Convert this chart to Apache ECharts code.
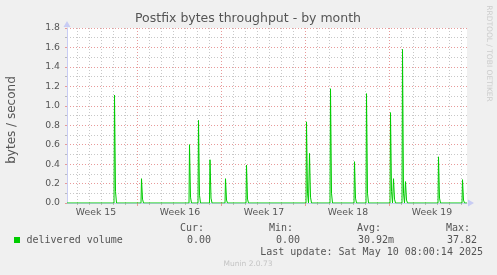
<!DOCTYPE html>
<html><head><meta charset="utf-8">
<script src="https://cdn.jsdelivr.net/npm/echarts@6/dist/echarts.min.js"></script>
<style>html,body{margin:0;padding:0;background:#f0f0f0;} #c{width:497px;height:275px;}</style>
</head><body><div id="c"></div>
<script>
// Time axis in hours from the left edge of the plot (800 h shown)
const spikeHours = [95, 149, 245, 263, 286, 317, 359, 479, 485, 527, 575, 599, 647, 653, 671, 677, 743, 791];
const spikePeaks = [1.11, 0.25, 0.60, 0.85, 0.445, 0.25, 0.39, 0.835, 0.51, 1.175, 0.425, 1.125, 0.93, 0.25, 1.58, 0.22, 0.475, 0.24];
const spikeTails = [0.12, 0.04, 0.06, 0.08, 0.05, 0.03, 0.04, 0.10, 0.06, 0.10, 0.05, 0.10, 0.12, 0.04, 0.10, 0.03, 0.05, 0.03];
const dayLineHours = [20,44,68,92,116,140,164,188,212,236,260,284,308,332,356,380,404,428,452,476,500,524,548,572,596,620,644,668,692,716,740,764,788];
const weekLineHours = [140, 308, 476, 644];
const weekLabelHours = [58, 226, 394, 562, 730];
const weekLabels = ['Week 15', 'Week 16', 'Week 17', 'Week 18', 'Week 19'];
const legendName = 'delivered volume';
const statHeaders = ['Cur:', 'Min:', 'Avg:', 'Max:'];
const statValues = ['0.00', '0.00', '30.92m', '37.82'];
const lastUpdate = 'Last update: Sat May 10 08:00:14 2025';

const data = [[0, 0]];
spikeHours.forEach((h, i) => {
  data.push([h - 1, 0], [h, spikePeaks[i]], [h + 2, spikeTails[i]], [h + 4, 0]);
});
data.push([800, 0]);

const GRAY = '#c8c8c8', RED = '#e89a9a', AXIS = '#c8ccf4', TXT = '#555';
const chart = echarts.init(document.getElementById('c'), null, {renderer: 'canvas'});
const mono = '"DejaVu Sans Mono", monospace';
const sans = '"DejaVu Sans", sans-serif';
const statHeaderX = [204, 293, 381, 470];
const statValueX = [211, 300, 394, 477];
const graphics = [
  {type: 'text', x: 248, y: 18.5, style: {text: 'Postfix bytes throughput - by month', font: '12.5px ' + sans, fill: TXT, align: 'center', verticalAlign: 'middle'}},
  {type: 'text', x: 12, y: 120, rotation: Math.PI / 2, style: {text: 'bytes / second', font: '12px ' + sans, fill: TXT, align: 'center', verticalAlign: 'middle'}},
  {type: 'text', x: 488.5, y: 53.5, rotation: -Math.PI / 2, style: {text: 'RRDTOOL / TOBI OETIKER', font: '7.5px ' + sans, fill: '#cccccc', align: 'center', verticalAlign: 'middle'}},
  {type: 'rect', shape: {x: 14, y: 237, width: 6, height: 6}, style: {fill: '#00cc00'}},
  {type: 'text', x: 26.5, y: 240, style: {text: legendName, font: '10px ' + mono, fill: TXT, align: 'left', verticalAlign: 'middle'}},
  {type: 'text', x: 483, y: 252, style: {text: lastUpdate, font: '10px ' + mono, fill: TXT, align: 'right', verticalAlign: 'middle'}},
  {type: 'text', x: 248, y: 264, style: {text: 'Munin 2.0.73', font: '7.5px ' + sans, fill: '#c4c4c4', align: 'center', verticalAlign: 'middle'}}
];
statHeaders.forEach((s, i) => graphics.push({type: 'text', x: statHeaderX[i], y: 228, style: {text: s, font: '10px ' + mono, fill: TXT, align: 'right', verticalAlign: 'middle'}}));
statValues.forEach((s, i) => graphics.push({type: 'text', x: statValueX[i], y: 240, style: {text: s, font: '10px ' + mono, fill: TXT, align: 'right', verticalAlign: 'middle'}}));

chart.setOption({
  animation: false,
  backgroundColor: '#f0f0f0',
  grid: {left: 67, top: 28, width: 400, height: 175, show: true, backgroundColor: '#ffffff', borderWidth: 0},
  xAxis: [
    {type: 'value', min: 0, max: 800, position: 'bottom',
      axisLine: {show: true, onZero: false, lineStyle: {color: AXIS, width: 1}, symbol: ['none', 'triangle'], symbolSize: [7, 6], symbolOffset: [0, 4]},
      axisTick: {show: true, customValues: dayLineHours, length: 2, lineStyle: {color: '#bbbbbb'}},
      axisLabel: {show: false},
      splitLine: {show: true, lineStyle: {color: GRAY, type: [1, 2], width: 1}}},
    {type: 'value', min: 0, max: 800, position: 'bottom',
      axisLine: {show: false},
      axisTick: {show: true, customValues: weekLineHours, length: 3, lineStyle: {color: RED}},
      axisLabel: {show: true, customValues: weekLabelHours, margin: 5, fontSize: 9.3, fontFamily: sans, color: TXT,
        formatter: v => weekLabels[weekLabelHours.indexOf(v)] || ''},
      splitLine: {show: true, lineStyle: {color: RED, type: [1, 2], width: 1}}}
  ],
  yAxis: {type: 'value', min: 0, max: 1.8, interval: 0.2,
    axisLine: {show: true, lineStyle: {color: AXIS, width: 1}, symbol: ['none', 'triangle'], symbolSize: [7, 6], symbolOffset: [0, 4]},
    axisTick: {show: true, length: 2, lineStyle: {color: RED}},
    minorTick: {show: true, splitNumber: 2, length: 2, lineStyle: {color: '#bbbbbb'}},
    axisLabel: {fontSize: 9.3, fontFamily: sans, color: TXT, margin: 7, formatter: v => v.toFixed(1)},
    splitLine: {show: true, lineStyle: {color: RED, type: [1, 2], width: 1}},
    minorSplitLine: {show: true, lineStyle: {color: GRAY, type: [1, 2], width: 1}}},
  series: [{type: 'line', xAxisIndex: 0, data: data, showSymbol: false, symbol: 'none',
    lineStyle: {color: '#00cc00', width: 1}, itemStyle: {color: '#00cc00'}, z: 5}],
  graphic: graphics
});
</script></body></html>
